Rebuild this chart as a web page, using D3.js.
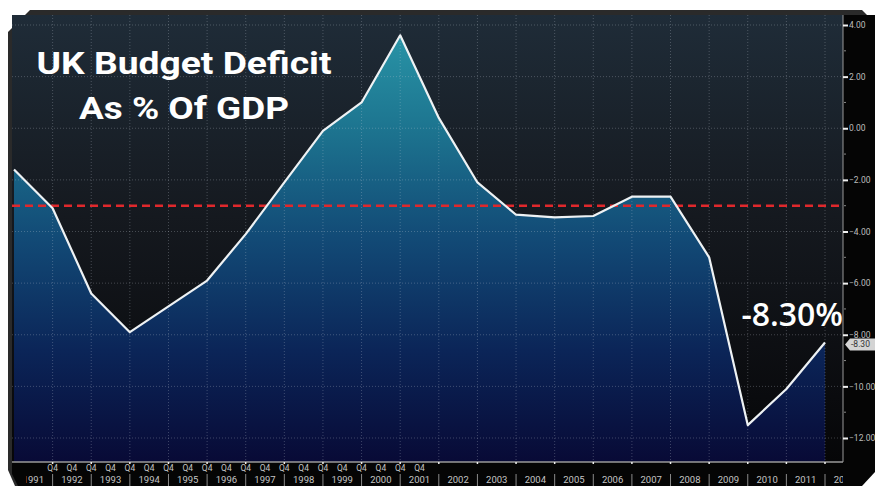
<!DOCTYPE html>
<html><head><meta charset="utf-8">
<script src="https://cdn.jsdelivr.net/npm/d3@7"></script>
<style>html,body{margin:0;padding:0;background:#fff;}svg{display:block;}</style>
</head><body>
<svg id="chart" width="875" height="486"></svg>
<script>
// ---- data ----
const years = [1991,1992,1993,1994,1995,1996,1997,1998,1999,2000,2001,2002,2003,2004,2005,2006,2007,2008,2009,2010,2011,2012];
const deficit = [-1.6,-3.1,-6.4,-7.9,-6.9,-5.9,-4.1,-2.1,-0.1,1.0,3.6,0.4,-2.1,-3.35,-3.45,-3.4,-2.65,-2.65,-5.0,-11.5,-10.1,-8.3];
const yTicks = [4,2,0,-2,-4,-6,-8,-10,-12];
const yMinorTicks = [3,1,-1,-3,-5,-7,-9,-11];
const yearLabels = ["1991","1992","1993","1994","1995","1996","1997","1998","1999","2000","2001","2002","2003","2004","2005","2006","2007","2008","2009","2010","2011","2012"];
const q4Positions = [1992,1992.5,1993,1993.5,1994,1994.5,1995,1995.5,1996,1996.5,1997,1997.5,1998,1998.5,1999,1999.5,2000,2000.5,2001,2001.5];
const thresholdValue = -3;
const lastValueLabel = "-8.30";
const titleLines = ["UK Budget Deficit","As % Of GDP"];
const annotation = "-8.30%";

const svg = d3.select("#chart");
const L = 12, R = 843, T = 15, B = 462;
const x = d3.scaleLinear().domain([1991, 2012]).range([14, 825]);
const y = d3.scaleLinear().domain([4, -12]).range([25, 438]);
const axisFont = "'Liberation Sans Narrow','Roboto',sans-serif";

const defs = svg.append("defs");
const bg = defs.append("linearGradient").attr("id","bg").attr("x1",0).attr("y1",0).attr("x2",0).attr("y2",1);
bg.append("stop").attr("offset","0%").attr("stop-color","#1f2c38");
bg.append("stop").attr("offset","45%").attr("stop-color","#15191f");
bg.append("stop").attr("offset","100%").attr("stop-color","#060608");
const ag = defs.append("linearGradient").attr("id","area").attr("gradientUnits","userSpaceOnUse")
  .attr("x1",0).attr("y1",T).attr("x2",0).attr("y2",B);
ag.append("stop").attr("offset","0%").attr("stop-color","#2b9aab");
ag.append("stop").attr("offset","25%").attr("stop-color","#1d7590");
ag.append("stop").attr("offset","50%").attr("stop-color","#124a76");
ag.append("stop").attr("offset","75%").attr("stop-color","#0b2558");
ag.append("stop").attr("offset","100%").attr("stop-color","#080a36");
defs.append("clipPath").attr("id","plotclip").append("rect").attr("x",L).attr("y",T).attr("width",R-L).attr("height",B-T);
defs.append("clipPath").attr("id","axclip").append("polygon").attr("points","26,462 843,462 843,486 26,486");

// frame
svg.append("polygon").attr("points","30,10 862,10 875,23 875,486 15,486 8,470 8,32")
  .attr("fill","#2a2a2a");
svg.append("rect").attr("x",R).attr("y",T).attr("width",875-R).attr("height",486-T).attr("fill","#050505");
svg.append("polygon").attr("points",`${L},${B} ${R},${B} ${R},486 18,486 ${L},474`).attr("fill","#050505");
svg.append("rect").attr("x",L).attr("y",T).attr("width",R-L).attr("height",B-T).attr("fill","url(#bg)");

const plot = svg.append("g").attr("clip-path","url(#plotclip)");
// area
const area = d3.area().x((d,i)=>x(years[i])).y0(B).y1(d=>y(d));
plot.append("path").datum(deficit).attr("d",area).attr("fill","url(#area)");

// grid
plot.selectAll(".hg").data(yTicks).join("line")
  .attr("x1",L).attr("x2",R).attr("y1",d=>y(d)).attr("y2",d=>y(d))
  .attr("stroke","rgba(200,210,220,0.28)").attr("stroke-width",1).attr("stroke-dasharray","1,2");
plot.selectAll(".vg").data(years.slice(1)).join("line")
  .attr("x1",d=>x(d)).attr("x2",d=>x(d)).attr("y1",T).attr("y2",B)
  .attr("stroke","rgba(200,210,220,0.28)").attr("stroke-width",1).attr("stroke-dasharray","1,2");

// threshold
plot.append("line").attr("x1",L).attr("x2",R).attr("y1",y(thresholdValue)).attr("y2",y(thresholdValue))
  .attr("stroke","#e0282c").attr("stroke-width",2.5).attr("stroke-dasharray","8,5");

// line
const line = d3.line().x((d,i)=>x(years[i])).y(d=>y(d));
plot.append("path").datum(deficit).attr("d",line).attr("fill","none")
  .attr("stroke","#eef2f4").attr("stroke-width",2.2).attr("stroke-linejoin","round");

// axes lines
svg.append("line").attr("x1",R).attr("x2",R).attr("y1",T).attr("y2",B).attr("stroke","#9a9a9a").attr("stroke-width",1);
svg.append("line").attr("x1",L).attr("x2",R).attr("y1",B).attr("y2",B).attr("stroke","#9a9a9a").attr("stroke-width",1.5);

// right axis
const ra = svg.append("g").attr("transform",`translate(${R},0)`);
const yAxis = d3.axisRight(y).tickValues(yTicks).tickFormat(d3.format(".2f")).tickSize(5).tickPadding(1);
ra.call(yAxis);
ra.select(".domain").remove();
ra.selectAll(".tick line").attr("stroke","#f0f0f0").attr("stroke-width",2);
ra.selectAll(".tick text").attr("fill","#bdbdbd").style("font-family",axisFont).style("font-size","8.5px");
ra.selectAll(".minor").data(yMinorTicks).join("line").attr("class","minor")
  .attr("x1",1).attr("x2",3).attr("y1",d=>y(d)).attr("y2",d=>y(d)).attr("stroke","#888");

// last value callout
const lv = deficit[deficit.length-1], ly = y(lv) + 2;
svg.append("polygon").attr("points",`${R+2},${ly} ${R+7},${ly-6} 875,${ly-6} 875,${ly+6} ${R+7},${ly+6}`)
  .attr("fill","#d4d4d4");
svg.append("text").attr("x",R+8).attr("y",ly+3).text(lastValueLabel).attr("fill","#333")
  .style("font-family",axisFont).style("font-size","8.5px");

// bottom axis
const ba = svg.append("g").attr("clip-path","url(#axclip)");
ba.selectAll(".sep").data(years.slice(1)).join("line")
  .attr("x1",d=>x(d)).attr("x2",d=>x(d)).attr("y1",474).attr("y2",486).attr("stroke","#8a8a8a");
ba.selectAll(".tk").data(years.slice(1)).join("line")
  .attr("x1",d=>x(d)).attr("x2",d=>x(d)).attr("y1",B-2).attr("y2",B+2).attr("stroke","#eee").attr("stroke-width",1.5);
ba.selectAll(".yl").data(yearLabels).join("text")
  .attr("x",(d,i)=>x(years[i]+0.5)).attr("y",483).attr("text-anchor","middle")
  .text(d=>d).attr("fill","#c4c4c4").style("font-family",axisFont).style("font-size","9.5px");
ba.selectAll(".q4").data(q4Positions).join("text")
  .attr("x",d=>x(d)).attr("y",471).attr("text-anchor","middle")
  .text("Q4").attr("fill","#c4c4c4").style("font-family",axisFont).style("font-size","8.5px");

// title
const titleWidths = [295, 210];
svg.selectAll(".title").data(titleLines).join("text")
  .attr("x",184).attr("y",(d,i)=>74+i*45).attr("text-anchor","middle").text(d=>d)
  .attr("textLength",(d,i)=>titleWidths[i]).attr("lengthAdjust","spacingAndGlyphs")
  .attr("fill","#ffffff").style("font-family","Roboto, sans-serif").style("font-weight","700").style("font-size","32px");

// annotation
svg.append("text").attr("x",843).attr("y",326).attr("text-anchor","end").text(annotation)
  .attr("fill","#ffffff").style("font-family","'Open Sans', sans-serif").style("font-weight","600").style("font-size","32px");

// bottom-right white corner
svg.append("polygon").attr("points","875,472 875,486 862,486").attr("fill","#ffffff");
</script>
</body></html>
